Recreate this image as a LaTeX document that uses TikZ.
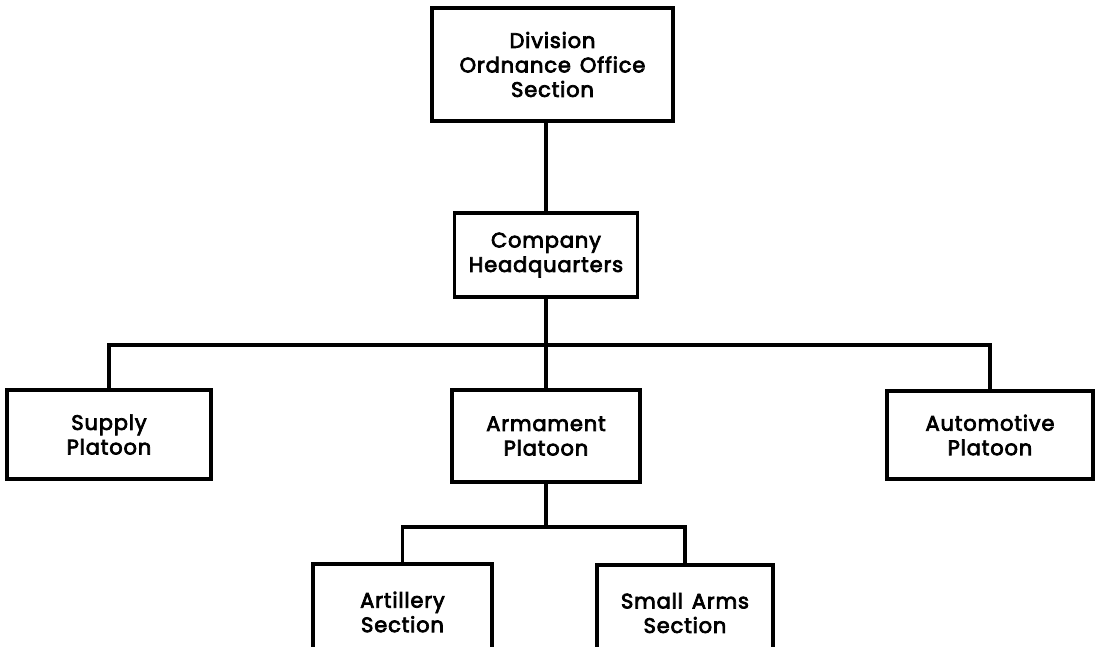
\documentclass[tikz,border=0pt]{standalone}
\usepackage{fontspec}
\setmainfont{Poppins}[FakeBold=3.5, LetterSpace=4, WordSpace=1.4]
\begin{document}
\begin{tikzpicture}[x=1pt,y=-1pt,
  unit/.style={draw, line width=3.6pt, rectangle, align=center,
    font=\fontsize{21}{24.5}\selectfont, inner sep=0pt},
  link/.style={line width=3.6pt, line join=miter}]
  \useasboundingbox (0,0) rectangle (1096,647);
  \clip (0,0) rectangle (1096,647);

  % command chain
  \node[unit, minimum width=241, minimum height=113] (div) at (552.5,64.5)
    {Division\\Ordnance Office\\Section};
  \node[unit, minimum width=183, minimum height=84] (hq) at (546,255)
    {Company\\Headquarters};

  % platoons
  \node[unit, minimum width=204, minimum height=89] (sup) at (109,434.5)
    {Supply\\Platoon};
  \node[unit, minimum width=188, minimum height=92] (arm) at (546,436)
    {Armament\\Platoon};
  \node[unit, minimum width=206, minimum height=88] (aut) at (990,435)
    {Automotive\\Platoon};

  % sections of the armament platoon
  \node[unit, minimum width=179, minimum height=96] (art) at (402.5,612)
    {Artillery\\Section};
  \node[unit, minimum width=176, minimum height=96] (sma) at (685,613)
    {Small Arms\\Section};

  % branch points
  \coordinate (bar) at (546,345);
  \coordinate (sub) at (546,527);

  \draw[link] (hq.north) -- (hq.north |- div.south);
  \draw[link] (hq.south) -- (bar);
  \draw[link] (sup.north) |- (bar) -| (aut.north);
  \draw[link] (bar) -- (arm.north);
  \draw[link] (arm.south) -- (sub);
  \draw[link] (art.north) |- (sub) -| (sma.north);
\end{tikzpicture}
\end{document}
